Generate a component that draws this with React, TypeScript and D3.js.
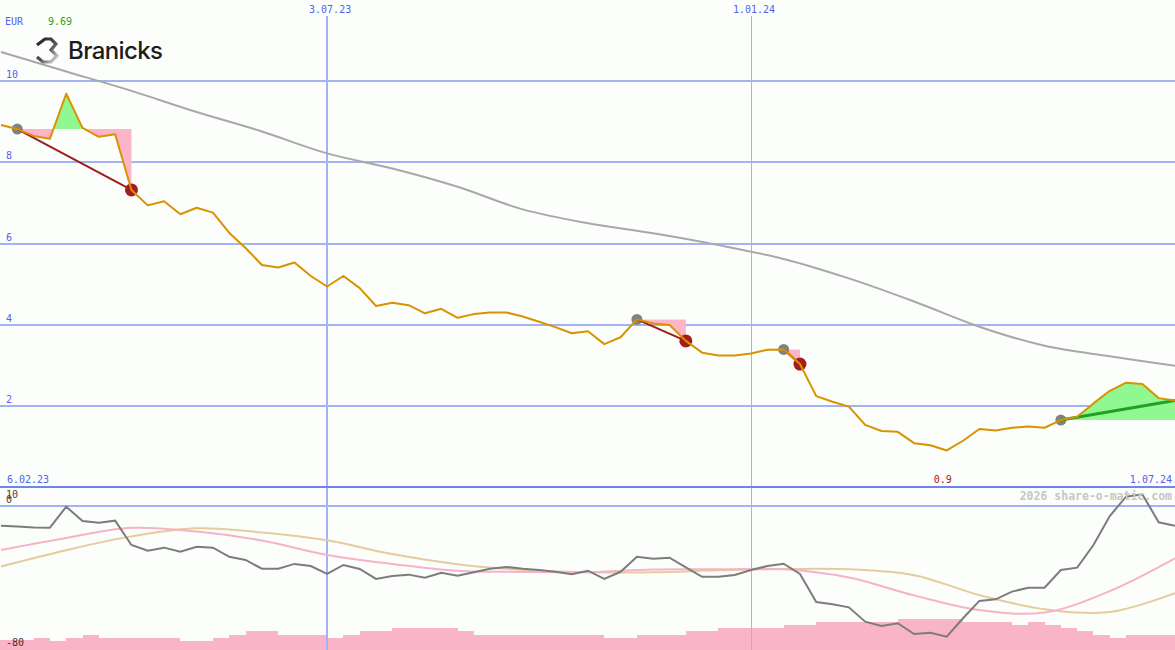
import * as d3 from 'd3';

// weekly closes, EUR
const weekStart = new Date(Date.UTC(2023, 1, 13));
const weekEnd = new Date(Date.UTC(2024, 6, 1));
const dates = d3.utcMonday.range(weekStart, d3.utcDay.offset(weekEnd, 1));

const price = [
  8.92, 8.82, 8.65, 8.58, 9.69, 8.85, 8.63, 8.69, 7.32, 6.94,
  7.04, 6.72, 6.88, 6.76, 6.26, 5.89, 5.47, 5.41, 5.53, 5.20,
  4.94, 5.20, 4.90, 4.46, 4.54, 4.48, 4.28, 4.39, 4.17, 4.26,
  4.30, 4.30, 4.20, 4.07, 3.94, 3.79, 3.84, 3.52, 3.69, 4.13,
  4.03, 3.99, 3.60, 3.31, 3.24, 3.24, 3.29, 3.38, 3.39, 3.03,
  2.24, 2.10, 1.98, 1.53, 1.38, 1.36, 1.08, 1.03, 0.90, 1.14,
  1.43, 1.39, 1.46, 1.49, 1.46, 1.65, 1.73, 2.06, 2.37, 2.57,
  2.54, 2.19, 2.13,
];

// long moving average, sampled every 4th week
const maLong = [10.72, 10.24, 9.76, 9.24, 8.76, 8.22, 7.85, 7.40, 6.84, 6.50, 6.25, 5.96, 5.62, 5.14, 4.57, 3.95, 3.48, 3.22, 2.99];

// lower panel
const momentum = [
  -11.0, -11.5, -12.0, -12.1, -0.4, -8.4, -9.3, -8.2, -21.8, -25.0,
  -23.3, -25.6, -22.8, -23.3, -28.4, -30.2, -35.1, -35.1, -32.4, -33.6,
  -38.0, -33.0, -35.2, -40.8, -39.2, -38.4, -40.1, -37.3, -39.0, -37.1,
  -35.1, -34.1, -35.1, -35.8, -36.8, -38.2, -36.2, -40.8, -36.8, -28.4,
  -29.5, -28.9, -34.3, -39.6, -39.6, -38.6, -35.8, -33.6, -32.3, -38.0,
  -53.7, -55.0, -56.7, -64.7, -67.1, -65.6, -71.6, -70.9, -73.1, -62.8,
  -53.1, -52.2, -47.9, -45.7, -45.7, -35.8, -34.5, -21.8, -5.6, 5.2,
  6.5, -9.1, -11.0,
];
const momFast = [-24.6, -17.9, -12.2, -14.3, -19.3, -27.4, -32.4, -36.2, -36.9, -37.0, -35.5, -35.4, -35.4, -40.0, -50.0, -58.2, -59.6, -47.6, -29.3];
const momSlow = [-33.8, -24.7, -17.0, -12.5, -14.8, -19.2, -26.9, -32.6, -35.8, -37.0, -37.1, -36.0, -35.3, -35.4, -38.7, -49.8, -57.7, -59.3, -48.8];
const volume = [
  -75.0, -75.0, -73.7, -75.5, -73.7, -72.2, -73.7, -73.7, -73.7, -73.7,
  -73.7, -75.5, -75.5, -73.7, -72.2, -69.9, -69.9, -72.2, -72.2, -72.2,
  -73.7, -72.2, -69.9, -69.9, -68.1, -68.1, -68.1, -68.1, -69.9, -72.2,
  -72.2, -72.2, -72.2, -72.2, -72.2, -72.2, -72.2, -73.7, -73.7, -72.2,
  -72.2, -72.2, -69.9, -69.9, -68.1, -68.1, -68.1, -68.1, -66.6, -66.6,
  -64.7, -64.7, -64.7, -64.7, -64.7, -63.2, -63.2, -63.2, -63.2, -64.7,
  -64.7, -64.7, -66.6, -64.7, -66.6, -68.1, -69.9, -72.2, -73.7, -72.2,
  -72.2, -72.2,
];

// signals: index of start week / end week
const signals = [
  { start: 1, end: 8, type: 'sell' },
  { start: 39, end: 42, type: 'sell' },
  { start: 48, end: 49, type: 'sell' },
  { start: 65, end: 72, type: 'buy' },
];

const yTicks = [2, 4, 6, 8, 10];
const dateTicks = [new Date(Date.UTC(2023, 6, 3)), new Date(Date.UTC(2024, 0, 1))];
const cornerLabels = ['6.02.23', '1.07.24'];
const lowTicks = ['10', '0', '-80'];

const W = 1175;
const H = 650;
const mono = '"DejaVu Sans Mono", monospace';
const blue = '#5262ee';
const grid = '#a3b2f2';

export default function App() {
  const x = d3.scaleUtc().domain([weekStart, weekEnd]).range([1, W]);
  const y = d3.scaleLinear().domain([0, 12]).range([487, 0]);
  const yLow = d3.scaleLinear().domain([-80, 0]).range([649, 506]);

  const maDates = dates.filter((_, i) => i % 4 === 0);
  const fmt = d3.utcFormat('%-d.%m.%y');

  const priceLine = d3.line<number>().x((_, i) => x(dates[i])).y(d => y(d));
  const maLine = d3.line<number>().x((_, i) => x(maDates[i])).y(d => y(d)).curve(d3.curveCatmullRom);
  const momLine = d3.line<number>().x((_, i) => x(dates[i])).y(d => yLow(d));
  const momMaLine = d3.line<number>().x((_, i) => x(maDates[i])).y(d => yLow(d)).curve(d3.curveCatmullRom);

  const iMin = d3.minIndex(price);
  const iMax = d3.maxIndex(price);

  // step outline of the bars so no seams show between them
  const barArea = d3.area<number>()
    .x((_, i) => (i === 0 ? 0 : x(dates[i])))
    .y0(H)
    .y1(d => yLow(d))
    .curve(d3.curveStepAfter);

  return (
    <div style={{ position: 'absolute', left: 0, top: 0 }}>
      <svg width={W} height={H} style={{ display: 'block' }}>
        <defs>
          {signals.map((s, k) => {
            const ly = y(price[s.start]);
            return (
              <g key={k}>
                <clipPath id={`above${k}`}><rect x={0} y={0} width={W} height={ly} /></clipPath>
                <clipPath id={`below${k}`}><rect x={0} y={ly} width={W} height={H - ly} /></clipPath>
              </g>
            );
          })}
          <linearGradient id="logoGrad" x1="0" y1="0" x2="1" y2="1">
            <stop offset="0" stopColor="#1b1b1b" />
            <stop offset="0.55" stopColor="#555" />
            <stop offset="1" stopColor="#e8e8e8" />
          </linearGradient>
        </defs>
        <rect width={W} height={H} fill="#fcfefc" />

        {/* volume-like bars in lower panel */}
        <path d={barArea([...volume, volume[volume.length - 1]])!} fill="#f9b4c8" shapeRendering="crispEdges" />

        {/* grid */}
        <g shapeRendering="crispEdges">
          {yTicks.map(t => (
            <line key={t} x1={0} x2={W} y1={y(t)} y2={y(t)} stroke={grid} strokeWidth={2} />
          ))}
          {dateTicks.map((d, k) => (
            <line key={k} x1={x(d)} x2={x(d)} y1={16} y2={H} stroke={grid} strokeWidth={k === 0 ? 2 : 1} />
          ))}
          <line x1={0} x2={W} y1={y(0)} y2={y(0)} stroke="#7283ee" strokeWidth={2} />
          <line x1={0} x2={W} y1={yLow(0)} y2={yLow(0)} stroke={grid} strokeWidth={2} />
        </g>

        {/* lower panel lines */}
        <path d={momMaLine(momSlow)!} fill="none" stroke="#e4cc9c" strokeWidth={2} />
        <path d={momMaLine(momFast)!} fill="none" stroke="#f8b2c8" strokeWidth={2} />
        <path d={momLine(momentum)!} fill="none" stroke="#7c7c7c" strokeWidth={2} />

        {/* signal fills */}
        {signals.map((s, k) => {
          const idx = d3.range(s.start, s.end + 1);
          const level = price[s.start];
          const area = d3.area<number>()
            .x(i => x(dates[i]))
            .y0(() => y(level))
            .y1(i => y(price[i]));
          return (
            <g key={k}>
              <path d={area(idx)!} fill="#90f890" clipPath={`url(#above${k})`} />
              <path d={area(idx)!} fill="#fbb4c8" clipPath={`url(#below${k})`} />
            </g>
          );
        })}

        <path d={maLine(maLong)!} fill="none" stroke="#a8a8a8" strokeWidth={2} />

        {/* signal markers */}
        {signals.map((s, k) => (
          <g key={k}>
            <circle cx={x(dates[s.start])} cy={y(price[s.start])} r={5.5} fill="#828282" />
            {s.type === 'sell' && (
              <circle cx={x(dates[s.end])} cy={y(price[s.end])} r={6.5} fill="#a41c1c" />
            )}
            <line
              x1={x(dates[s.start])} y1={y(price[s.start])}
              x2={x(dates[s.end])} y2={y(price[s.end])}
              stroke={s.type === 'sell' ? '#a01c1c' : '#22a022'}
              strokeWidth={s.type === 'sell' ? 2 : 3}
            />
          </g>
        ))}

        <path d={priceLine(price)!} fill="none" stroke="#d99200" strokeWidth={2} strokeLinejoin="round" />

        {/* texts */}
        <g fontFamily={mono} fontSize={10}>
          <text x={5} y={25} fill={blue}>EUR</text>
          <text x={48} y={25} fill="#2c9c2c">{d3.format('.2f')(price[iMax])}</text>
          {yTicks.map(t => (
            <text key={t} x={6} y={y(t) - 3} fill={blue}>{t}</text>
          ))}
          {dateTicks.map((d, k) => (
            <text key={k} x={x(d) + 3} y={13} fill={blue} textAnchor="middle">{fmt(d)}</text>
          ))}
          <text x={7} y={483} fill={blue}>{cornerLabels[0]}</text>
          <text x={1172} y={483} fill={blue} textAnchor="end">{cornerLabels[1]}</text>
          <text x={x(dates[iMin]) - 4} y={483} fill="#a01818" textAnchor="middle">{String(price[iMin])}</text>
          <text x={6} y={498} fill="#444">{lowTicks[0]}</text>
          <text x={6} y={503} fill="#444">{lowTicks[1]}</text>
          <text x={6} y={646} fill="#333">{lowTicks[2]}</text>
        </g>
        <text x={1172} y={500} fontFamily={mono} fontSize={11.5} fontWeight="bold" fill="#c6c6c6" textAnchor="end">
          2026 share-o-matic.com
        </text>

        {/* logo */}
        <path
          d="M37,45 L45,39 L51,39 L56,44 L51,50 L57,56 L51,62 L43,62 L37,57"
          fill="none" stroke="url(#logoGrad)" strokeWidth={3.2} strokeLinejoin="miter"
        />
        <text x={68} y={59} fontFamily="Inter, 'Noto Sans', sans-serif" fontSize={24} fontWeight={500} fill="#1d1d1b" textLength={95}>
          Branicks
        </text>
      </svg>
    </div>
  );
}
